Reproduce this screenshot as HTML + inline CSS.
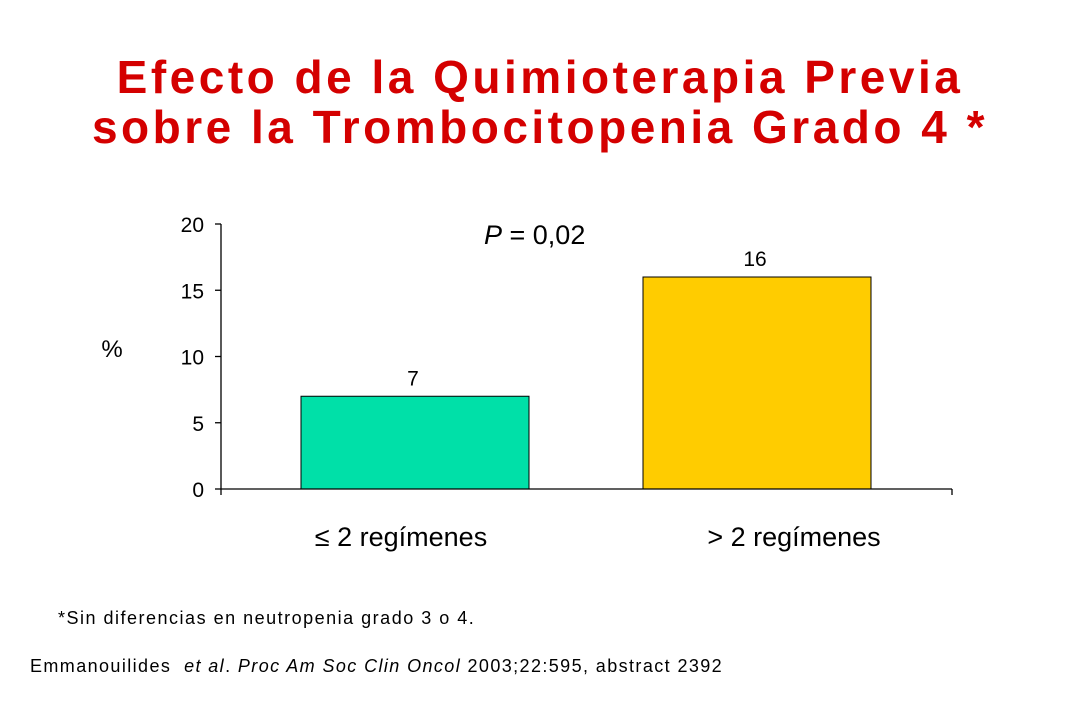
<!DOCTYPE html>
<html><head><meta charset="utf-8"><style>
body{margin:0;background:#fff;font-family:"Liberation Sans",Arial,sans-serif}
#wrap{position:relative;width:1080px;height:720px;overflow:hidden}
.t{position:absolute;white-space:nowrap}
</style></head><body>
<div id="wrap">
<div class="t" style="left:0;width:1080px;top:52px;text-align:center;color:#d40000;font-weight:bold;font-size:46px;line-height:50px;letter-spacing:3.5px">Efecto de la Quimioterapia Previa<br>sobre la Trombocitopenia Grado 4 *</div>
<svg id="chart" width="1080" height="720" style="position:absolute;left:0;top:0"></svg>
<div class="t" style="left:58px;top:608px;font-size:18px;letter-spacing:1.5px">*Sin diferencias en neutropenia grado 3 o 4.</div>
<div class="t" style="left:30px;top:656px;font-size:18px;letter-spacing:1.4px">Emmanouilides &nbsp;<i>et al</i>. <i>Proc Am Soc Clin Oncol</i> 2003;22:595, abstract 2392</div>
</div>
<script>
const categories=["\u2264 2 regímenes","> 2 regímenes"];
const values=[7,16];
const colors=["#00e0a8","#ffcc00"];
const yTicks=[0,5,10,15,20];
const svg=document.getElementById('chart');
const NS='http://www.w3.org/2000/svg';
const x0=221,x1=952,yBase=489,yTop=224,yMax=20;
const y=v=>yBase-(v/yMax)*(yBase-yTop);
const firstCenter=415,step=342;
const barW=228;
const xc=i=>firstCenter+step*i;
const labelX=i=>401+393*i;
function mk(tag,attrs,text){const e=document.createElementNS(NS,tag);for(const k in attrs)e.setAttribute(k,attrs[k]);if(text!==undefined)e.textContent=text;svg.appendChild(e);return e;}
values.forEach((v,i)=>{
 const r=mk('rect',{x:xc(i)-barW/2,y:y(v),width:barW,height:yBase-y(v),fill:colors[i],stroke:'#000','stroke-width':1});
 
 
 const l=mk('text',{x:xc(i)-2,y:y(v)-11,'text-anchor':'middle','font-size':21,'font-family':'Liberation Sans, Arial, sans-serif'},String(v));
 
 
 const c=mk('text',{x:labelX(i),y:546,'text-anchor':'middle','font-size':27,'font-family':'Liberation Sans, Arial, sans-serif'},categories[i]);
 
 
});
const ya=mk('line',{x1:x0,y1:yTop,x2:x0,y2:yBase,stroke:'#000','stroke-width':1.3});


const xa=mk('line',{x1:x0,y1:yBase,x2:x1,y2:yBase,stroke:'#000','stroke-width':1.3});


[x0,x1].forEach(xx=>{const t=mk('line',{x1:xx,y1:yBase,x2:xx,y2:yBase+6,stroke:'#000','stroke-width':1.3});
 
 });
yTicks.forEach(v=>{
 const t=mk('line',{x1:x0-6,y1:y(v),x2:x0,y2:y(v),stroke:'#000','stroke-width':1.3});
 
 
 const l=mk('text',{x:x0-17,y:y(v)+8,'text-anchor':'end','font-size':21,'font-family':'Liberation Sans, Arial, sans-serif'},String(v));
 
 
});
const yt=mk('text',{x:112,y:357,'text-anchor':'middle','font-size':24,'font-family':'Liberation Sans, Arial, sans-serif'},'%');


const p=mk('text',{x:484,y:244,'font-size':27,'font-family':'Liberation Sans, Arial, sans-serif'});


p.innerHTML='<tspan font-style="italic">P</tspan> = 0,02';
</script>
</body></html>
